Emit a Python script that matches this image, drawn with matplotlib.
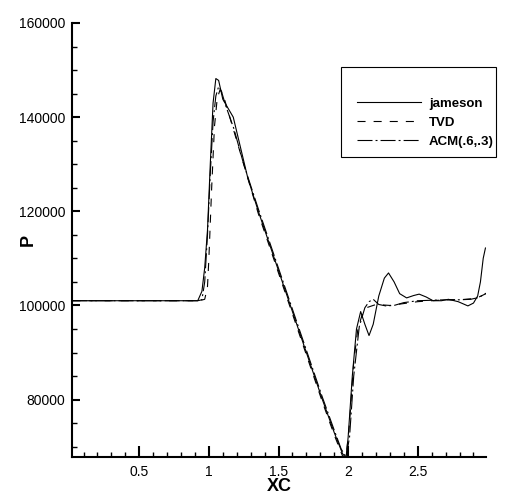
import matplotlib
matplotlib.use("Agg")
import matplotlib.pyplot as plt
from matplotlib.patches import Rectangle
from matplotlib.ticker import MultipleLocator

# jameson (solid)
x_jameson = [0.02, 0.92, 0.95, 0.97, 0.99, 1.01, 1.03, 1.05, 1.07, 1.10, 1.175,
             1.28, 1.355, 1.47, 1.585, 1.70, 1.815, 1.90, 1.96, 1.985,
             2.00, 2.03, 2.06, 2.09, 2.12, 2.15, 2.18, 2.22, 2.26, 2.29, 2.33,
             2.37, 2.42, 2.47, 2.51, 2.56, 2.61, 2.67, 2.72, 2.79, 2.86, 2.90,
             2.93, 2.95, 2.97, 2.986]
p_jameson = [101000, 101000, 103000, 108000, 116000, 130000, 143000, 148200,
             147800, 143800, 140000, 127000, 120000, 110000, 100000, 90000,
             80000, 73000, 68500, 67600,
             72000, 85000, 95000, 98700, 96000, 93600, 96000, 102000, 105800,
             106900, 105000, 102500, 101600, 102100, 102400, 101800, 101000,
             101000, 101300, 100800, 99900, 100500, 102000, 105000, 110000,
             112200]

# TVD (dashed)
x_tvd = [0.02, 0.93, 0.97, 0.99, 1.00, 1.02, 1.04, 1.06, 1.08, 1.10, 1.14,
         1.20, 1.26, 1.355, 1.47, 1.585, 1.70, 1.815, 1.90, 1.96, 1.985,
         2.01, 2.04, 2.07, 2.10, 2.14, 2.20, 2.30, 2.40, 2.50, 2.60, 2.70,
         2.80, 2.88, 2.94, 2.99]
p_tvd = [101000, 101000, 101300, 104000, 110000, 125000, 138000, 144000,
         145800, 145000, 141000, 135000, 129000, 119500, 109500, 99500, 89500,
         79500, 72500, 68000, 67700,
         75000, 88000, 95000, 98000, 99600, 100200, 100000, 100400, 100800,
         101000, 101200, 101200, 101400, 101800, 102500]

# ACM(.6,.3) (dash-dot)
x_acm = [0.02, 0.92, 0.95, 0.97, 0.99, 1.01, 1.03, 1.05, 1.07, 1.09, 1.12,
         1.18, 1.25, 1.355, 1.47, 1.585, 1.70, 1.815, 1.90, 1.95, 1.985,
         2.01, 2.04, 2.08, 2.12, 2.15, 2.18, 2.22, 2.27, 2.33, 2.40, 2.50,
         2.60, 2.70, 2.80, 2.88, 2.94, 2.99]
p_acm = [101000, 101000, 101200, 105000, 115000, 128000, 139000, 144500,
         146500, 145500, 142500, 137500, 130000, 120500, 110500, 100500,
         90500, 80500, 73500, 69500, 67800,
         72000, 85000, 95500, 99500, 100800, 101300, 100200, 99900, 100000,
         100600, 101000, 101100, 101200, 101200, 101300, 101700, 102600]

x_ticks = [0.5, 1, 1.5, 2, 2.5]
x_ticklabels = ["0.5", "1", "1.5", "2", "2.5"]
y_ticks = [80000, 100000, 120000, 140000, 160000]


def main():
    plt.rcParams['font.family'] = ['Liberation Sans', 'DejaVu Sans']
    plt.rcParams['lines.scale_dashes'] = False

    W, H = 531, 501
    fig = plt.figure(figsize=(W / 100, H / 100), dpi=100)
    ax_w, ax_h = 486 - 72, 457 - 23
    ax = fig.add_axes([72 / W, 1 - 457 / H, ax_w / W, ax_h / H])

    lw = 0.8
    ax.plot(x_jameson, p_jameson, color="black", lw=lw, label="jameson")
    ax.plot(x_tvd, p_tvd, color="black", lw=lw, dashes=(5.8, 5.8), label="TVD")
    ax.plot(x_acm, p_acm, color="black", lw=lw,
            dashes=(10.8, 2.2, 1.4, 2.2), label="ACM(.6,.3)")

    ax.set_xlim(0.017, 2.99)
    ax.set_ylim(67800, 160000)

    ax.set_xticks(x_ticks)
    ax.set_xticklabels(x_ticklabels)
    ax.set_yticks(y_ticks)
    ax.xaxis.set_minor_locator(MultipleLocator(0.1))
    ax.yaxis.set_minor_locator(MultipleLocator(5000))

    for side in ["top", "right"]:
        ax.spines[side].set_visible(False)
    for side in ["left", "bottom"]:
        ax.spines[side].set_linewidth(1.5)

    ax.tick_params(axis="x", which="major", direction="in", length=8,
                   width=1.5, pad=6, labelsize=10)
    ax.tick_params(axis="x", which="minor", direction="in", length=3.6,
                   width=1)
    ax.tick_params(axis="y", which="major", direction="in", length=5.8,
                   width=1.5, pad=5, labelsize=10)
    ax.tick_params(axis="y", which="minor", direction="in", length=3.6,
                   width=1)

    ax.set_xlabel("XC", fontsize=13, fontweight="bold")
    ax.xaxis.set_label_coords(0.5, -(478 - 457) / ax_h)
    ax.xaxis.label.set_va("top")
    ax.set_ylabel("P", fontsize=13, fontweight="bold")
    ax.yaxis.set_label_coords(-(72 - 37) / ax_w, 0.5)

    # legend box
    fig.patches.append(Rectangle((341 / W, 1 - 157 / H), (496 - 341) / W,
                                 (157 - 67) / H, transform=fig.transFigure,
                                 fill=False, edgecolor="black", lw=0.8))
    ax.legend(loc="upper left", bbox_to_anchor=(350 / W, 1 - 91 / H),
              bbox_transform=fig.transFigure, frameon=False,
              handlelength=4.9, handletextpad=0.6, labelspacing=0.5,
              borderpad=0, prop={"weight": "bold", "size": 9.5})

    fig.savefig("out.png", dpi=100)


if __name__ == "__main__":
    main()
